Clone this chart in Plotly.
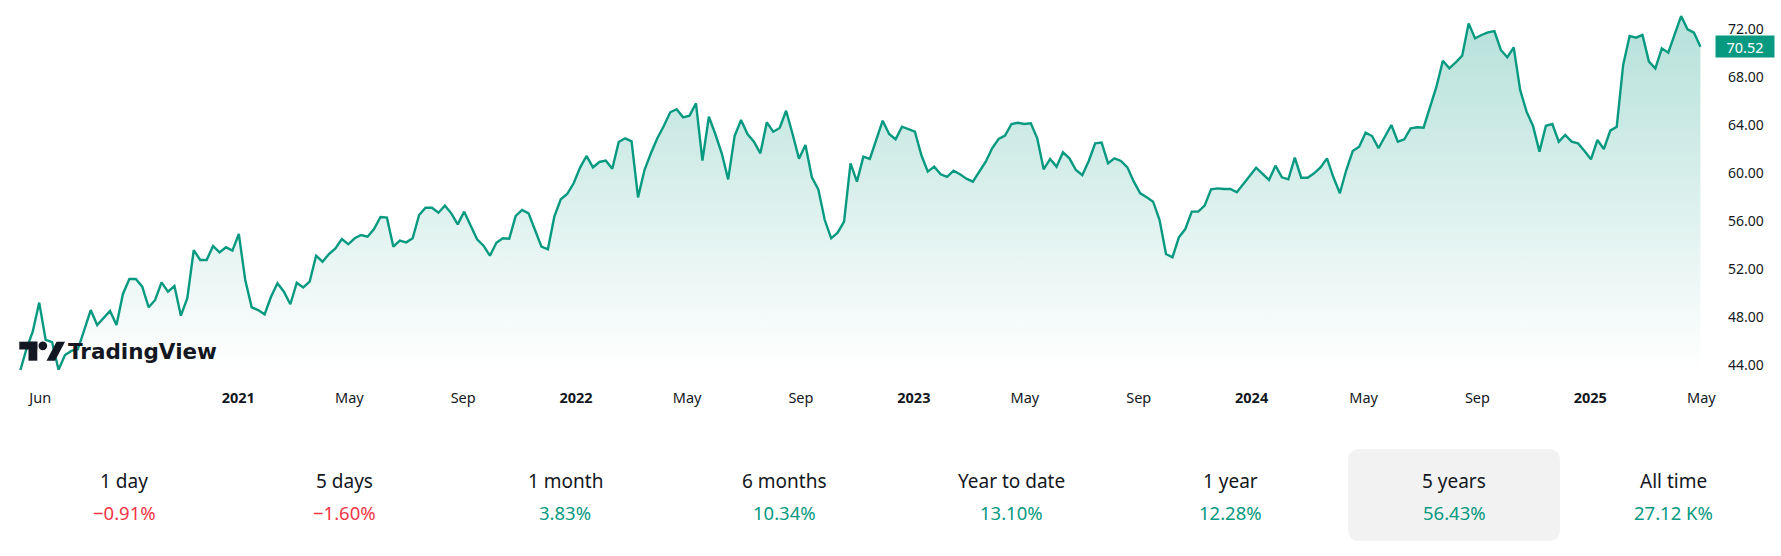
import pandas as pd
import plotly.graph_objects as go

# ---- data (weekly closes) ----
close = [
    43.44, 45.3, 46.8, 49.2, 46.1, 45.9, 43.6, 44.83, 45.17, 45.31, 46.92, 48.58, 47.33, 47.89, 48.5, 47.33,
    49.92, 51.17, 51.17, 50.53, 48.81, 49.42, 50.89, 50.11, 50.58, 48.11, 49.56, 53.58, 52.75, 52.75, 53.92,
    53.39, 53.81, 53.53, 54.92, 51.08, 48.81, 48.58, 48.22, 49.69, 50.81, 50.11, 49.06, 50.86,
    50.47, 50.94, 53.11, 52.61, 53.25, 53.72, 54.5, 54.06, 54.56, 54.83, 54.69, 55.33, 56.33, 56.28, 53.86,
    54.36, 54.22, 54.56, 56.5, 57.11, 57.11, 56.69, 57.28, 56.64, 55.72, 56.78, 55.61, 54.47, 53.94, 53.11,
    54.19, 54.56, 54.53, 56.42, 56.92, 56.64, 55.25, 53.86, 53.64, 56.36, 57.81, 58.25, 59.14,
    60.45, 61.42, 60.47, 60.92, 61.03, 60.36, 62.58, 62.89, 62.64, 57.97, 60.25, 61.64, 62.89, 63.92, 65.06,
    65.31, 64.64, 64.78, 65.81, 61.03, 64.69, 63.25, 61.64, 59.47, 63.08, 64.42, 63.25, 62.61, 61.64, 64.22,
    63.44, 63.75, 65.19, 63.25, 61.19, 62.33, 59.64, 58.64, 56.08, 54.56, 55.03, 55.94, 60.81, 59.28,
    61.36, 61.17, 62.75, 64.36, 63.25, 62.81, 63.86, 63.67, 63.44, 61.5, 60.11, 60.53, 59.89, 59.67, 60.19,
    59.89, 59.53, 59.28, 60.06, 60.94, 62.06, 62.83, 63.11, 64.08, 64.19, 64.08, 64.14, 62.89, 60.31, 61.17,
    60.53, 61.72, 61.22, 60.25, 59.83, 61.0, 62.47, 62.53, 60.81, 61.22, 61.0, 60.47, 59.28,
    58.31, 57.97, 57.61, 56.08, 53.25, 52.97, 54.64, 55.33, 56.78, 56.78, 57.28, 58.64, 58.72, 58.67, 58.67,
    58.39, 59.08, 59.75, 60.44, 59.92, 59.42, 60.61, 59.64, 59.47, 61.28, 59.61, 59.61, 59.97, 60.47, 61.22,
    59.64, 58.31, 60.25, 61.83, 62.19, 63.36, 63.08, 62.06, 63.03, 64.0, 62.61, 62.81, 63.72,
    63.81, 63.78, 65.47, 67.19, 69.36, 68.72, 69.22, 69.78, 72.47, 71.22, 71.5, 71.72, 71.83, 70.25, 69.64,
    70.47, 66.92, 65.11, 63.92, 61.78, 63.94, 64.08, 62.61, 63.17, 62.61, 62.47, 61.83, 61.14, 62.75, 62.0,
    63.53, 63.86, 69.0, 71.42, 71.28, 71.5, 69.28, 68.72, 70.39, 70.03, 71.56, 73.08, 71.97, 71.69, 70.52,
]
first_date = "2020-05-10"
last_date = "2025-04-30"
dates = pd.date_range(start=first_date, end=last_date, periods=len(close))

tick_dates = ["2020-06-01", "2021-01-01", "2021-05-01", "2021-09-01", "2022-01-01", "2022-05-01",
              "2022-09-01", "2023-01-01", "2023-05-01", "2023-09-01", "2024-01-01", "2024-05-01",
              "2024-09-01", "2025-01-01", "2025-05-01"]
tick_labels = ["Jun", "<b>2021</b>", "May", "Sep", "<b>2022</b>", "May", "Sep", "<b>2023</b>", "May",
               "Sep", "<b>2024</b>", "May", "Sep", "<b>2025</b>", "May"]
y_ticks = [44, 48, 52, 56, 60, 64, 68, 72]
last_price = 70.52

periods = ["1 day", "5 days", "1 month", "6 months", "Year to date", "1 year", "5 years", "All time"]
changes = ["−0.91%", "−1.60%", "3.83%", "10.34%", "13.10%", "12.28%", "56.43%", "27.12 K%"]
is_negative = [True, True, False, False, False, False, False, False]
selected = "5 years"

# ---- layout geometry (pixels) ----
W, H = 1781, 556
PLOT_RIGHT = 1702
PLOT_BOTTOM = 370
PX_PER_DAY = 0.9254
X_2021 = 238.3          # pixel of 2021-01-01
GREEN = "#089981"
RED = "#f23645"
TEXT = "#131722"
FONT = "Noto Sans"


def px(x):
    return x / W


def py(y):
    return 1 - y / H


t2021 = pd.Timestamp("2021-01-01")
x_hi = t2021 + pd.Timedelta(days=(PLOT_RIGHT - X_2021) / PX_PER_DAY)
x_lo = t2021 - pd.Timedelta(days=X_2021 / PX_PER_DAY)
y_hi = 72 + 29 / 12
y_lo = 72 - (PLOT_BOTTOM - 29) / 12

fig = go.Figure()
fig.add_trace(go.Scatter(
    x=dates, y=close, mode="lines",
    line=dict(color=GREEN, width=2.4),
    fill="tozeroy",
    fillgradient=dict(type="vertical",
                      colorscale=[[0, "rgba(8,153,129,0.0)"], [1, "rgba(8,153,129,0.30)"]],
                      start=y_lo, stop=max(close)),
    hoverinfo="skip", showlegend=False,
))

shapes = []
annotations = []

# last price badge
annotations.append(dict(x=px(1744.5), xref="paper", y=last_price, yref="y",
                        text=f"{last_price:.2f}", showarrow=False,
                        font=dict(family=FONT, size=14.5, color="white"),
                        bgcolor=GREEN, width=56, height=19, borderpad=1,
                        xanchor="center", yanchor="middle"))

# TradingView logo
shapes += [
    dict(type="rect", xref="paper", yref="paper", x0=px(19.3), x1=px(37.3), y0=py(341.7), y1=py(349.5),
         fillcolor=TEXT, line=dict(width=0), layer="above"),
    dict(type="rect", xref="paper", yref="paper", x0=px(28.5), x1=px(37.3), y0=py(341.7), y1=py(360.7),
         fillcolor=TEXT, line=dict(width=0), layer="above"),
    dict(type="circle", xref="paper", yref="paper", x0=px(38.5), x1=px(47.2), y0=py(341.5), y1=py(350.2),
         fillcolor=TEXT, line=dict(width=0), layer="above"),
    dict(type="path", xref="paper", yref="paper",
         path=f"M {px(46.5)} {py(360.7)} L {px(55)} {py(360.7)} L {px(65)} {py(341.7)} L {px(56.5)} {py(341.7)} Z",
         fillcolor=TEXT, line=dict(width=0), layer="above"),
]
annotations.append(dict(x=px(65.5), y=py(351.5), xref="paper", yref="paper", text="<b>TradingView</b>",
                        showarrow=False, xanchor="left", yanchor="middle",
                        font=dict(family="DejaVu Sans", size=21.5, color=TEXT)))

# performance strip
centers = [124, 344, 565, 784, 1011, 1230, 1454, 1673]
for cx, per, chg, neg in zip(centers, periods, changes, is_negative):
    if per == selected:
        x0, x1, y0, y1, r = 1348, 1560, 449, 541, 12
        path = (f"M {px(x0 + r)} {py(y0)} L {px(x1 - r)} {py(y0)} Q {px(x1)} {py(y0)} {px(x1)} {py(y0 + r)} "
                f"L {px(x1)} {py(y1 - r)} Q {px(x1)} {py(y1)} {px(x1 - r)} {py(y1)} "
                f"L {px(x0 + r)} {py(y1)} Q {px(x0)} {py(y1)} {px(x0)} {py(y1 - r)} "
                f"L {px(x0)} {py(y0 + r)} Q {px(x0)} {py(y0)} {px(x0 + r)} {py(y0)} Z")
        shapes.append(dict(type="path", xref="paper", yref="paper", path=path,
                           fillcolor="#f2f2f2", line=dict(width=0), layer="below"))
    annotations.append(dict(x=px(cx), y=py(481), xref="paper", yref="paper", text=per, showarrow=False,
                            xanchor="center", yanchor="middle", font=dict(family=FONT, size=19, color=TEXT)))
    annotations.append(dict(x=px(cx), y=py(512), xref="paper", yref="paper", text=chg, showarrow=False,
                            xanchor="center", yanchor="middle",
                            font=dict(family=FONT, size=18.5, color=RED if neg else GREEN)))

fig.update_layout(
    width=W, height=H,
    margin=dict(l=0, r=0, t=0, b=0),
    paper_bgcolor="white", plot_bgcolor="white",
    font=dict(family=FONT, color=TEXT, size=13),
    xaxis=dict(domain=[0, px(PLOT_RIGHT)], range=[x_lo, x_hi], showgrid=False, zeroline=False,
               showline=False, tickvals=tick_dates, ticktext=tick_labels, ticks="",
               ticklabelstandoff=17, tickfont=dict(family=FONT, size=14.5, color=TEXT),
               automargin=False, fixedrange=True),
    yaxis=dict(domain=[py(PLOT_BOTTOM), 1], range=[y_lo, y_hi], side="right", showgrid=False,
               zeroline=False, showline=False, tickvals=y_ticks, tickformat=".2f", ticks="",
               ticklabelstandoff=25, tickfont=dict(family=FONT, size=14, color=TEXT),
               automargin=False, fixedrange=True),
    shapes=shapes, annotations=annotations,
    showlegend=False,
)

fig.write_html("out.html", config={"displayModeBar": False})
